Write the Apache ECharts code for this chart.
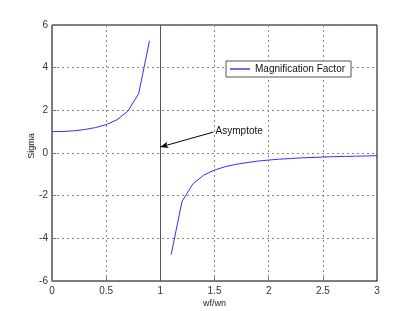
<!DOCTYPE html>
<html><head><meta charset="utf-8">
<script src="https://cdn.jsdelivr.net/npm/echarts@6/dist/echarts.min.js"></script>
<style>html,body{margin:0;padding:0;background:#fff}#c{width:416px;height:311px}</style>
</head><body><div id="c"></div>
<script>
const xLow = [0, 0.1, 0.2, 0.3, 0.4, 0.5, 0.6, 0.7, 0.8, 0.9];
const yLow = [1.0, 1.01, 1.04, 1.10, 1.19, 1.33, 1.56, 1.96, 2.78, 5.26];
const xHigh = [1.1, 1.2, 1.3, 1.4, 1.5, 1.6, 1.7, 1.8, 1.9, 2.0, 2.1, 2.2, 2.3, 2.4, 2.5, 2.6, 2.7, 2.8, 2.9, 3.0];
const yHigh = [-4.76, -2.27, -1.45, -1.04, -0.80, -0.64, -0.53, -0.45, -0.38, -0.33, -0.29, -0.26, -0.23, -0.21, -0.19, -0.17, -0.16, -0.15, -0.14, -0.125];
const xTicks = [0, 0.5, 1, 1.5, 2, 2.5, 3];
const yTicks = [-6, -4, -2, 0, 2, 4, 6];
const seriesName = 'Magnification Factor';
const asymptoteX = 1;
const arrowFrom = [1.49, 0.98];
const arrowTo = [1.0, 0.28];

const data = [];
xLow.forEach((x, i) => data.push([x, yLow[i]]));
data.push([asymptoteX, null]);
xHigh.forEach((x, i) => data.push([x, yHigh[i]]));

const font = 'Liberation Sans, Arial, sans-serif';
const chart = echarts.init(document.getElementById('c'), null, {renderer: 'canvas'});
chart.setOption({
  animation: false,
  backgroundColor: '#fff',
  grid: {left: 52, right: 39, top: 25, bottom: 30, show: true, borderColor: '#000', borderWidth: 1, backgroundColor: 'transparent', outerBoundsMode: 'none', containLabel: false},
  legend: {
    left: 226, top: 61, width: 122, height: 16,
    padding: [3, 6, 3, 4],
    backgroundColor: '#fff', borderColor: '#555', borderWidth: 1,
    icon: 'rect', itemWidth: 20, itemHeight: 2, itemGap: 5,
    textStyle: {fontFamily: font, fontSize: 10, color: '#111'},
    data: [seriesName]
  },
  xAxis: {
    type: 'value', min: xTicks[0], max: xTicks[xTicks.length - 1], interval: 0.5,
    name: 'wf/wn', nameLocation: 'middle', nameGap: 18, nameMoveOverlap: false,
    nameTextStyle: {fontFamily: font, fontSize: 9, color: '#222'},
    axisLine: {show: true, onZero: false, lineStyle: {color: '#777', width: 1}},
    axisTick: {show: true, inside: true, length: 4, lineStyle: {color: '#777'}},
    axisLabel: {fontFamily: font, fontSize: 10, color: '#333', margin: 5},
    splitLine: {show: true, lineStyle: {color: '#888', type: [2, 3], width: 1}}
  },
  yAxis: {
    type: 'value', min: yTicks[0], max: yTicks[yTicks.length - 1], interval: 2,
    name: 'Sigma', nameLocation: 'middle', nameGap: 16, nameRotate: 90, nameMoveOverlap: false,
    nameTextStyle: {fontFamily: font, fontSize: 9, color: '#222', padding: [0, 0, 0, 14]},
    axisLine: {show: true, onZero: false, lineStyle: {color: '#777', width: 1}},
    axisTick: {show: true, inside: true, length: 4, lineStyle: {color: '#777'}},
    axisLabel: {fontFamily: font, fontSize: 10, color: '#333', margin: 4},
    splitLine: {show: true, lineStyle: {color: '#888', type: [2, 3], width: 1}}
  },
  series: [{
    name: seriesName, type: 'line', data: data, showSymbol: false, symbol: 'none',
    connectNulls: false,
    lineStyle: {color: '#3030ff', width: 1}, itemStyle: {color: '#7070e0'},
    markLine: {
      silent: true, animation: false,
      label: {show: false},
      data: [
        {xAxis: asymptoteX, symbol: 'none', lineStyle: {color: '#555', type: 'solid', width: 1}},
        [{coord: arrowFrom, symbol: 'none'}, {coord: arrowTo, symbol: 'arrow', symbolSize: [5, 8]}]
      ],
      symbol: ['none', 'none'],
      lineStyle: {color: '#000', type: 'solid', width: 1}
    },
    markPoint: {
      silent: true, symbol: 'circle', symbolSize: 0,
      data: [{coord: [arrowFrom[0] + 0.02, arrowFrom[1] + 0.05], label: {show: true, formatter: 'Asymptote', position: 'right', distance: 0, fontFamily: font, fontSize: 10, color: '#111'}}]
    }
  }]
});
</script></body></html>
